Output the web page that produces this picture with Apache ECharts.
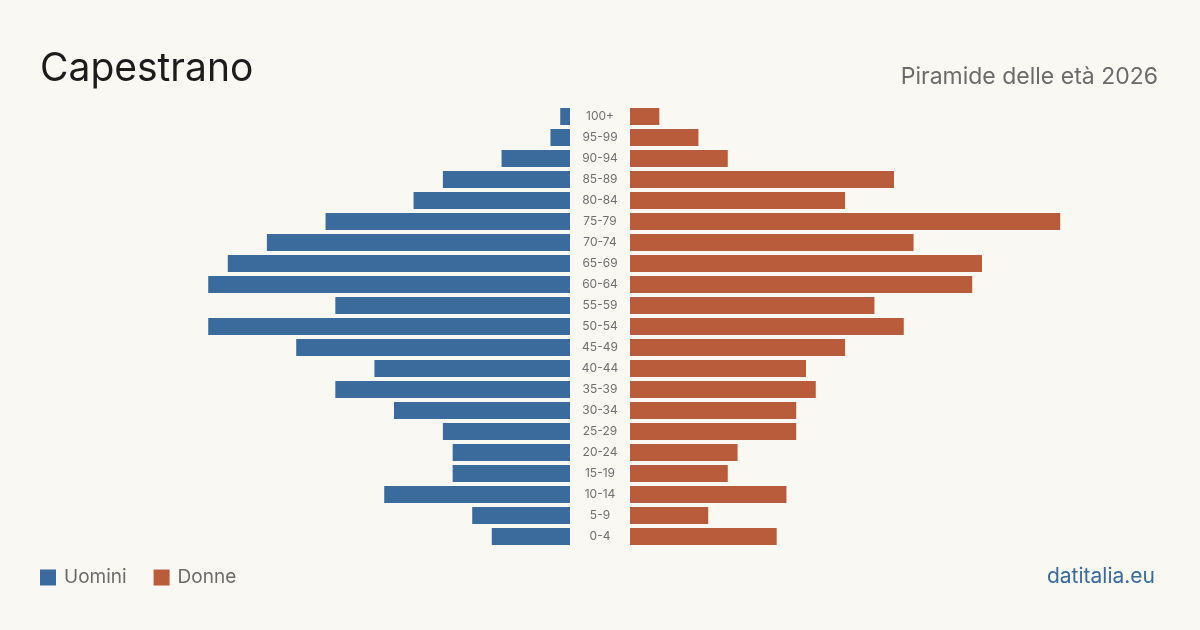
<!DOCTYPE html>
<html>
<head>
<meta charset="utf-8">
<script src="https://cdn.jsdelivr.net/npm/echarts@6/dist/echarts.min.js"></script>
<style>
  html, body { margin: 0; padding: 0; background: #f9f8f3; }
  #chart { width: 1200px; height: 630px; }
</style>
</head>
<body>
<div id="chart"></div>
<script>
// classi di età, dal basso verso l'alto
const ageGroups = ['0-4', '5-9', '10-14', '15-19', '20-24', '25-29', '30-34', '35-39', '40-44', '45-49',
  '50-54', '55-59', '60-64', '65-69', '70-74', '75-79', '80-84', '85-89', '90-94', '95-99', '100+']
const men = [8, 10, 19, 12, 12, 13, 18, 24, 20, 28, 37, 24, 37, 35, 31, 25, 16, 13, 7, 2, 1]
const women = [15, 8, 16, 10, 11, 17, 17, 19, 18, 22, 28, 25, 35, 36, 29, 44, 22, 27, 10, 7, 3]

const blue = '#3a6b9c'
const orange = '#b95c3c'
const font = 'Inter, "Noto Sans", sans-serif'

const chart = echarts.init(document.getElementById('chart'))

const option = {
  backgroundColor: '#f9f8f3',
  animation: false,
  textStyle: { fontFamily: font },
  title: [
    { text: 'Capestrano', left: 35, top: 45, textStyle: { fontSize: 39, fontWeight: 'normal', color: '#1c1c1c', fontFamily: font } },
    { text: 'Piramide delle età 2026', right: 37, top: 61, textStyle: { fontSize: 23, fontWeight: 'normal', color: '#6b6b6b', fontFamily: font } },
    { text: 'datitalia.eu', right: 40, top: 561, textStyle: { fontSize: 21, fontWeight: 'normal', color: '#3a6b9c', fontFamily: font } }
  ],
  legend: {
    left: 35,
    top: 563,
    itemWidth: 16,
    itemHeight: 16,
    itemGap: 27,
    icon: 'rect',
    textStyle: { fontSize: 19, color: '#6b6b6b', fontFamily: font, padding: [0, 0, 0, 3] },
    data: ['Uomini', 'Donne']
  },
  grid: [
    { left: 130, width: 440, top: 106, height: 441 },
    { left: 630, width: 440, top: 106, height: 441 }
  ],
  xAxis: [
    { gridIndex: 0, type: 'value', min: 0, max: 45, inverse: true, show: false },
    { gridIndex: 1, type: 'value', min: 0, max: 45, show: false }
  ],
  yAxis: [
    { gridIndex: 0, type: 'category', data: ageGroups, show: false },
    {
      gridIndex: 1, type: 'category', data: ageGroups,
      axisLine: { show: false }, axisTick: { show: false },
      axisLabel: { margin: 30, align: 'center', fontSize: 12, color: '#707070', fontFamily: font }
    }
  ],
  series: [
    { name: 'Uomini', type: 'bar', xAxisIndex: 0, yAxisIndex: 0, data: men, barWidth: 17, itemStyle: { color: blue } },
    { name: 'Donne', type: 'bar', xAxisIndex: 1, yAxisIndex: 1, data: women, barWidth: 17, itemStyle: { color: orange } }
  ]
}

chart.setOption(option)
</script>
</body>
</html>
